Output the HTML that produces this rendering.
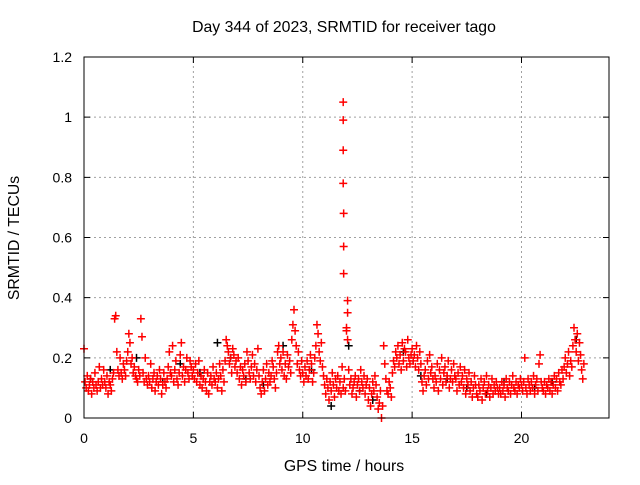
<!DOCTYPE html>
<html><head><meta charset="utf-8"><style>
html,body{margin:0;padding:0;background:#fff;}
svg text{font-family:"Liberation Sans",sans-serif;font-size:14px;fill:#000;}
svg text.big{font-size:15.8px;}
</style></head><body>
<svg id="chart" width="640" height="480" xmlns="http://www.w3.org/2000/svg">
<rect width="640" height="480" fill="#fff"/>
<text class="big" x="344" y="32" text-anchor="middle">Day 344 of 2023, SRMTID for receiver tago</text>
<text class="big" x="344" y="471" text-anchor="middle">GPS time / hours</text>
<text class="big" transform="translate(19,238) rotate(-90)" text-anchor="middle">SRMTID / TECUs</text>
<g id="grid"></g><g id="ticks"></g><g id="black"></g><g id="red"></g>
<rect x="84" y="57" width="525" height="361" fill="none" stroke="#000" stroke-width="1"/>
</svg>
<script>
const xTicks=[0,5,10,15,20];
const yTicks=[0,0.2,0.4,0.6,0.8,1,1.2];
const yTickLabels=["0","0.2","0.4","0.6","0.8","1","1.2"];
const redStep=0.05;
const redValues=[
.23,.12,.10,.14,.09,.11,.13,.08,.12,.10,.15,.11,.09,.12,.17,.10,.13,.11,.16,.12,
.10,.14,.08,.12,.11,.09,.13,.15,.33,.34,.22,.16,.14,.20,.15,.13,.18,.16,.14,.19,
.22,.28,.25,.18,.20,.15,.17,.14,.13,.12,.16,.14,.33,.27,.15,.12,.20,.13,.11,.14,
.12,.18,.10,.13,.15,.09,.12,.14,.11,.16,.13,.08,.11,.15,.12,.10,.13,.17,.22,.15,
.14,.24,.12,.16,.19,.13,.11,.15,.21,.25,.14,.17,.12,.16,.20,.15,.13,.19,.17,.14,
.16,.13,.18,.12,.15,.19,.11,.14,.10,.13,.16,.12,.09,.15,.08,.12,.14,.11,.17,.13,
.12,.15,.10,.13,.18,.14,.09,.16,.12,.19,.26,.24,.22,.18,.20,.15,.23,.21,.17,.19,
.15,.20,.13,.17,.11,.16,.14,.18,.12,.22,.19,.15,.13,.17,.21,.14,.18,.12,.16,.23,
.14,.10,.08,.12,.16,.09,.13,.18,.11,.15,.12,.14,.19,.17,.13,.10,.15,.22,.24,.18,
.20,.16,.22,.14,.18,.13,.21,.17,.19,.15,.26,.31,.36,.29,.24,.18,.22,.16,.14,.19,
.15,.12,.17,.14,.19,.13,.16,.21,.18,.12,.15,.20,.24,.31,.28,.22,.19,.25,.17,.14,
.11,.08,.13,.10,.06,.12,.09,.15,.11,.07,.13,.10,.14,.09,.12,.08,.17,.10,.13,.09,
.30,.26,.16,.11,.13,.08,.10,.12,.14,.07,.11,.13,.09,.16,.12,.10,.14,.08,.11,.13,
.06,.10,.04,.08,.12,.09,.14,.11,.07,.03,.05,.09,.00,.04,.24,.18,.13,.09,.08,.12,
.10,.07,.15,.19,.17,.22,.20,.24,.18,.21,.16,.25,.19,.23,.22,.17,.26,.20,.18,.21,
.23,.19,.21,.17,.24,.20,.16,.22,.18,.12,.09,.14,.16,.11,.19,.13,.21,.15,.17,.13,
.10,.14,.12,.18,.09,.16,.13,.20,.11,.15,.17,.12,.14,.19,.10,.13,.16,.12,.18,.14,
.13,.09,.15,.11,.17,.12,.14,.10,.16,.08,.13,.11,.15,.09,.12,.07,.10,.14,.11,.08,
.07,.11,.09,.13,.06,.10,.12,.08,.14,.09,.11,.07,.10,.13,.08,.11,.09,.12,.10,.08,
.10,.08,.12,.09,.11,.07,.13,.10,.09,.12,.08,.11,.14,.10,.09,.12,.08,.11,.10,.13,
.11,.09,.12,.20,.10,.08,.13,.11,.09,.12,.10,.14,.08,.11,.13,.09,.18,.21,.12,.10,
.09,.12,.08,.11,.10,.13,.09,.12,.08,.11,.14,.10,.13,.09,.15,.12,.11,.16,.13,.17,
.20,.15,.18,.22,.14,.19,.17,.24,.30,.26,.22,.28,.19,.25,.21,.16,.13,.18];
const spikeTimes=[11.85,11.85,11.85,11.85,11.87,11.87,11.87,12.05,12.05,12.0];
const spikeValues=[1.05,0.99,0.89,0.78,0.68,0.57,0.48,0.39,0.35,0.29];
const blackTimes=[0.3,1.2,2.4,3.6,4.4,5.3,6.1,6.7,7.4,8.2,9.1,10.4,11.3,12.1,12.6,13.2,14.6,15.4,16.6,17.5,18.4,19.2,20.6,21.4,22.5];
const blackValues=[0.13,0.16,0.20,0.12,0.18,0.15,0.25,0.20,0.13,0.11,0.24,0.16,0.04,0.24,0.09,0.06,0.22,0.14,0.13,0.10,0.08,0.12,0.10,0.12,0.26];
const X0=84,X1=609,Y0=418,Y1=57,XMAX=24,YMAX=1.2;
function xs(t){return X0+(X1-X0)*t/XMAX;}
function ys(v){return Y0-(Y0-Y1)*v/YMAX;}
const NS="http://www.w3.org/2000/svg";
const grid=document.getElementById('grid'),ticks=document.getElementById('ticks');
function mk(tag,attrs,parent){const e=document.createElementNS(NS,tag);for(const k in attrs)e.setAttribute(k,attrs[k]);parent.appendChild(e);return e;}
xTicks.forEach(t=>{const x=xs(t);
 if(t>0){const g=mk('line',{x1:x,y1:Y0,x2:x,y2:Y1,stroke:'#a0a0a0','stroke-dasharray':'2,3'},grid);
 
 }
 const tk=mk('path',{d:`M${x} ${Y0}v-6M${x} ${Y1}v6`,stroke:'#000'},ticks);
 
 
 const tx=mk('text',{x:x,y:443,'text-anchor':'middle'},ticks);tx.textContent=String(t);
 
 });
yTicks.forEach((v,i)=>{const y=ys(v);
 if(v>0&&v<YMAX){const g=mk('line',{x1:X0,y1:y,x2:X1,y2:y,stroke:'#a0a0a0','stroke-dasharray':'2,3'},grid);
 
 }
 const tk=mk('path',{d:`M${X0} ${y}h6M${X1} ${y}h-6`,stroke:'#000'},ticks);
 
 
 const tx=mk('text',{x:72,y:y+5,'text-anchor':'end'},ticks);tx.textContent=yTickLabels[i];
 
 });
function cross(t,v,color,parent,name){const x=xs(t),y=ys(v);
 const p=mk('path',{d:`M${x-4} ${y}h8M${x} ${y-4}v8`,stroke:color,'stroke-width':1.5},parent);
 
 }
const bl=document.getElementById('black'),rd=document.getElementById('red');
blackTimes.forEach((t,i)=>cross(t,blackValues[i],'#000',bl,'black-point'));
redValues.forEach((v,i)=>cross(i*redStep,v,'#ff0000',rd,'red-point'));
spikeTimes.forEach((t,i)=>cross(t,spikeValues[i],'#ff0000',rd,'spike-point'));
</script>
</body></html>
